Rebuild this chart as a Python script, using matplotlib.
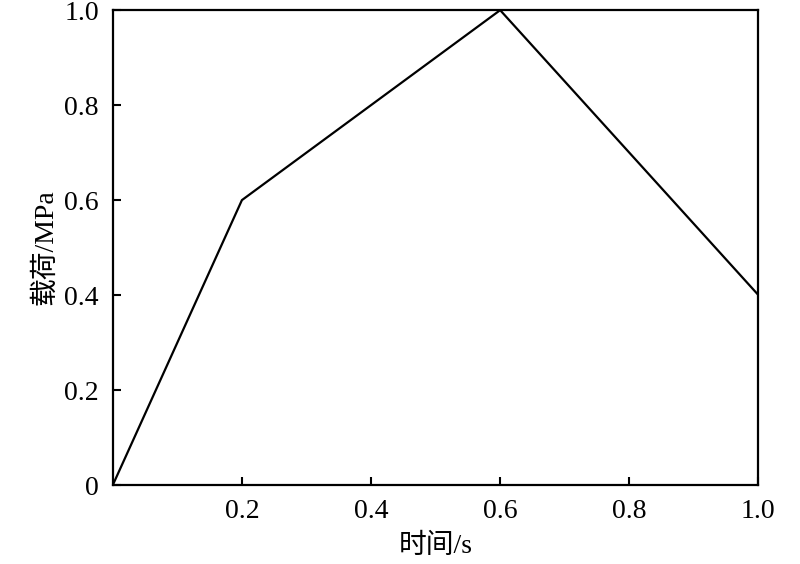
import matplotlib
matplotlib.use("Agg")
import matplotlib.pyplot as plt
from matplotlib.ticker import FixedLocator, FixedFormatter

time_s = [0.0, 0.2, 0.6, 1.0]
load_mpa = [0.0, 0.6, 1.0, 0.4]
xticks = [0.2, 0.4, 0.6, 0.8, 1.0]
xticklabels = ["0.2", "0.4", "0.6", "0.8", "1.0"]
yticks = [0.0, 0.2, 0.4, 0.6, 0.8, 1.0]
yticklabels = ["0", "0.2", "0.4", "0.6", "0.8", "1.0"]

fam = ["Liberation Serif", "Noto Sans CJK SC", "DejaVu Sans"]
plt.rcParams['font.family'] = fam

fig = plt.figure(figsize=(8, 5.64), dpi=100)
ax = fig.add_axes([0.141, 0.140, 0.807, 0.842])
ax.plot(time_s, load_mpa, color="black", lw=1.6)
ax.set_xlim(0, 1.0)
ax.set_ylim(0, 1.0)
ax.xaxis.set_major_locator(FixedLocator(xticks))
ax.xaxis.set_major_formatter(FixedFormatter(xticklabels))
ax.yaxis.set_major_locator(FixedLocator(yticks))
ax.yaxis.set_major_formatter(FixedFormatter(yticklabels))
ax.tick_params(direction="in", length=6, width=1.5, labelsize=20, pad=10,
               top=False, right=False)
for s in ax.spines.values():
    s.set_linewidth(1.6)
ax.set_xlabel("时间/s", fontsize=20, labelpad=7)
ax.set_ylabel("载荷/MPa", fontsize=20, labelpad=4)
fig.savefig("out.png", dpi=100)
